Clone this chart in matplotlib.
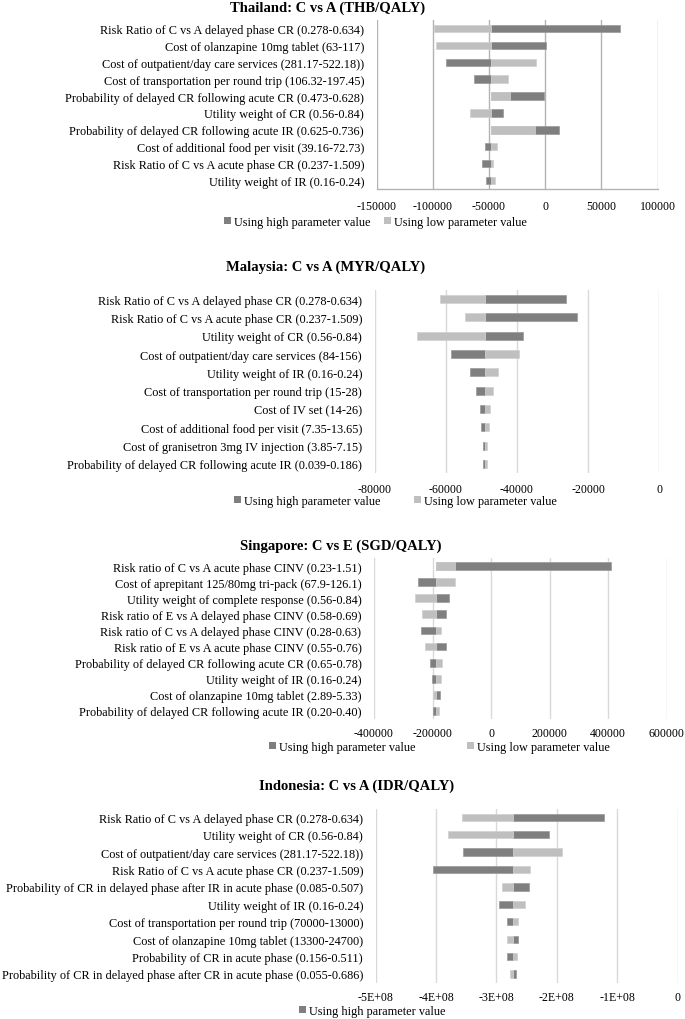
import matplotlib
matplotlib.use("Agg")
import matplotlib.pyplot as plt
from matplotlib.patches import Patch

plt.rcParams['font.family'] = ['Liberation Serif', 'DejaVu Serif']

W, H = 685, 1020
DARK = '#7f7f7f'
LIGHT = '#bfbfbf'
HIGH_LABEL = 'Using high parameter value'
LOW_LABEL = 'Using low parameter value'

# ---------------- data ----------------
th_title = 'Thailand: C vs A (THB/QALY)'
th_params = [
    'Risk Ratio of C vs A delayed phase CR (0.278-0.634)',
    'Cost of olanzapine 10mg tablet (63-117)',
    'Cost of outpatient/day care services (281.17-522.18))',
    'Cost of transportation per round trip (106.32-197.45)',
    'Probability of delayed CR following acute CR (0.473-0.628)',
    'Utility weight of CR (0.56-0.84)',
    'Probability of delayed CR following acute IR (0.625-0.736)',
    'Cost of additional food per visit (39.16-72.73)',
    'Risk Ratio of C vs A acute phase CR (0.237-1.509)',
    'Utility weight of IR (0.16-0.24)',
]
th_base = -48500
th_high = [66400, 300, -88600, -63400, -1400, -37900, 12500, -53900, -56000, -52500]
th_low = [-98900, -97200, -8000, -32900, -31400, -66900, -9200, -42900, -46200, -45000]
th_ticks = [-150000, -100000, -50000, 0, 50000, 100000]
th_ticklabels = ['-150000', '-100000', '-50000', '0', '50000', '100000']

my_title = 'Malaysia: C vs A (MYR/QALY)'
my_params = [
    'Risk Ratio of C vs A delayed phase CR (0.278-0.634)',
    'Risk Ratio of C vs A acute phase CR (0.237-1.509)',
    'Utility weight of CR (0.56-0.84)',
    'Cost of outpatient/day care services (84-156)',
    'Utility weight of IR (0.16-0.24)',
    'Cost of transportation per round trip (15-28)',
    'Cost of IV set (14-26)',
    'Cost of additional food per visit (7.35-13.65)',
    'Cost of granisetron 3mg IV injection (3.85-7.15)',
    'Probability of delayed CR following acute IR (0.039-0.186)',
]
my_base = -49100
my_high = [-26250, -23240, -38250, -58510, -53330, -51480, -50440, -50160, -49680, -49680]
my_low = [-61500, -54650, -68160, -39470, -45370, -46700, -47630, -47990, -48380, -48470]
my_ticks = [-80000, -60000, -40000, -20000, 0]
my_ticklabels = ['-80000', '-60000', '-40000', '-20000', '0']

sg_title = 'Singapore: C vs E (SGD/QALY)'
sg_params = [
    'Risk ratio of C vs A acute phase CINV (0.23-1.51)',
    'Cost of aprepitant 125/80mg tri-pack (67.9-126.1)',
    'Utility weight of complete response (0.56-0.84)',
    'Risk ratio of E vs A delayed phase CINV (0.58-0.69)',
    'Risk ratio of C vs A delayed phase CINV (0.28-0.63)',
    'Risk ratio of E vs A acute phase CINV (0.55-0.76)',
    'Probability of delayed CR following acute CR (0.65-0.78)',
    'Utility weight of IR (0.16-0.24)',
    'Cost of olanzapine 10mg tablet (2.89-5.33)',
    'Probability of delayed CR following acute IR (0.20-0.40)',
]
sg_base = -186600
sg_high = [408000, -248300, -145400, -154400, -240100, -155700, -208200, -202400, -174900, -196900]
sg_low = [-122500, -124800, -258600, -234600, -169400, -224300, -168100, -171500, -197900, -177300]
sg_ticks = [-400000, -200000, 0, 200000, 400000, 600000]
sg_ticklabels = ['-400000', '-200000', '0', '200000', '400000', '600000']

id_title = 'Indonesia: C vs A (IDR/QALY)'
id_params = [
    'Risk Ratio of C vs A delayed phase CR (0.278-0.634)',
    'Utility weight of CR (0.56-0.84)',
    'Cost of outpatient/day care services (281.17-522.18))',
    'Risk Ratio of C vs A acute phase CR (0.237-1.509)',
    'Probability of CR in delayed phase after IR in acute phase (0.085-0.507)',
    'Utility weight of IR (0.16-0.24)',
    'Cost of transportation per round trip (70000-13000)',
    'Cost of olanzapine 10mg tablet (13300-24700)',
    'Probability of CR in acute phase (0.156-0.511)',
    'Probability of CR in delayed phase after CR in acute phase (0.055-0.686)',
]
id_base = -273.2e6
id_high = [-122.0e6, -213.6e6, -355.5e6, -405.7e6, -246.2e6, -296.4e6, -282.2e6, -264.5e6, -282.2e6, -268.3e6]
id_low = [-357.2e6, -379.9e6, -191.6e6, -244.1e6, -290.4e6, -253.4e6, -264.0e6, -282.2e6, -265.6e6, -278.2e6]
id_ticks = [-5e8, -4e8, -3e8, -2e8, -1e8, 0]
id_ticklabels = ['-5E+08', '-4E+08', '-3E+08', '-2E+08', '-1E+08', '0']

# ---------------- drawing ----------------
fig = plt.figure(figsize=(W / 100, H / 100), dpi=100)
LABEL_FS = 8.85
TICK_FS = 8.6
TITLE_FS = 10.5


def add_ax(l, t, r, b):
    return fig.add_axes([l / W, 1 - b / H, (r - l) / W, (b - t) / H])


def panel(rect, params, base, high, low, ticks, ticklabels, grid_color, bottom_spine, bh, xpad):
    ax = add_ax(*rect)
    ys = list(range(len(params)))
    hi = [h - base for h in high]
    lo = [v - base for v in low]
    ax.barh(ys, hi, left=base, height=bh, color=DARK, edgecolor='#9a9a9a', linewidth=0.5, zorder=3)
    ax.barh(ys, lo, left=base, height=bh, color=LIGHT, edgecolor='#d0d0d0', linewidth=0.5, zorder=4)
    ax.set_ylim(len(params) - 0.5, -0.5)
    ax.set_xlim(ticks[0], ticks[-1])
    ax.set_xticks(ticks)
    ax.set_xticklabels(ticklabels)
    ax.set_yticks(ys)
    ax.set_yticklabels(params)
    ax.tick_params(axis='both', length=0, colors='black')
    ax.tick_params(axis='y', pad=9, labelsize=LABEL_FS)
    ax.tick_params(axis='x', pad=xpad, labelsize=TICK_FS)
    for t in ticks:
        ax.axvline(t, color=grid_color, linewidth=1.0, zorder=1)
    for s in ['top', 'left', 'right']:
        ax.spines[s].set_visible(False)
    if bottom_spine:
        ax.spines['bottom'].set_color(grid_color)
        ax.spines['bottom'].set_linewidth(1.0)
    else:
        ax.spines['bottom'].set_visible(False)
    return ax


def legend_entry(x, y, color, label):
    fig.legend(handles=[Patch(facecolor=color, edgecolor='none')], labels=[label],
               loc='center left', bbox_to_anchor=(x / W, 1 - y / H), frameon=False,
               handlelength=0.55, handleheight=0.55, handletextpad=0.25,
               borderaxespad=0, borderpad=0, fontsize=LABEL_FS)


def title(x, y, text):
    fig.text(x / W, 1 - y / H, text, ha='center', va='center', fontsize=TITLE_FS, fontweight='bold')


# Thailand
panel((376.6, 21, 657.7, 190), th_params, th_base, th_high, th_low, th_ticks, th_ticklabels,
      '#b3b3b3', True, 0.44, 8)
title(328, 8, th_title)
legend_entry(224, 223, DARK, HIGH_LABEL)
legend_entry(384, 223, LIGHT, LOW_LABEL)

# Malaysia
panel((374.6, 291, 659.3, 474), my_params, my_base, my_high, my_low, my_ticks, my_ticklabels,
      '#d9d9d9', False, 0.44, 7)
title(326, 267, my_title)
legend_entry(234, 502, DARK, HIGH_LABEL)
legend_entry(414, 502, LIGHT, LOW_LABEL)

# Singapore
panel((374, 559, 666.7, 720), sg_params, sg_base, sg_high, sg_low, sg_ticks, sg_ticklabels,
      '#d9d9d9', False, 0.48, 6)
title(341, 546, sg_title)
legend_entry(269, 748, DARK, HIGH_LABEL)
legend_entry(467, 748, LIGHT, LOW_LABEL)

# Indonesia
panel((375.6, 809.6, 677.7, 983.7), id_params, id_base, id_high, id_low, id_ticks, id_ticklabels,
      '#d9d9d9', False, 0.42, 6)
title(357, 786, id_title)
legend_entry(299, 1012, DARK, HIGH_LABEL)

fig.savefig('out.png', dpi=100)
